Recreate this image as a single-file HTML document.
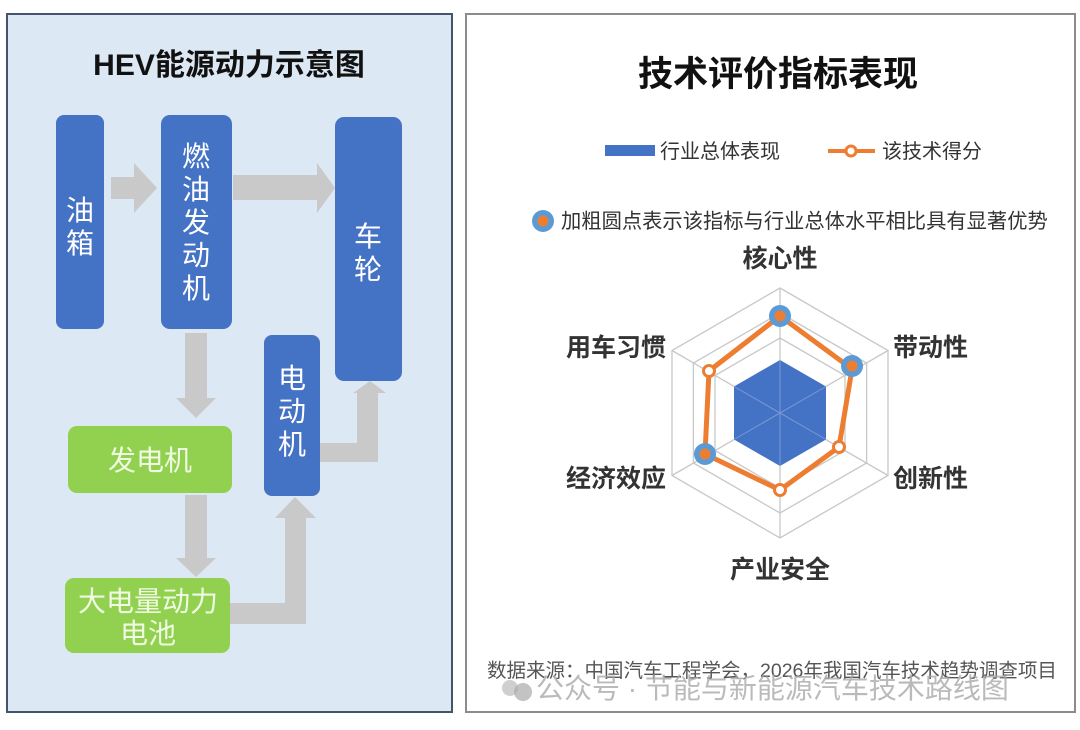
<!DOCTYPE html>
<html><head><meta charset="utf-8"><style>
body{margin:0;background:#fff;}
svg text{font-family:"Liberation Sans","Noto Sans CJK SC",sans-serif;}
</style></head><body>
<svg width="1080" height="725" viewBox="0 0 1080 725" xmlns="http://www.w3.org/2000/svg">
<rect x="0" y="0" width="1080" height="725" fill="#fff"/>
<rect x="7" y="14" width="445" height="698" fill="#dde8f5" stroke="#44546a" stroke-width="2"/>
<text x="229" y="75" font-size="30" font-weight="bold" text-anchor="middle" fill="#111">HEV能源动力示意图</text>
<g fill="#c9c9c9">
<polygon points="111,177 134,177 134,163 157,188 134,213 134,199 111,199"/>
<polygon points="233,175 317,175 317,163 335,188 317,213 317,200 233,200"/>
<polygon points="185,333 207,333 207,398 216,398 196,418 176,398 185,398"/>
<polygon points="185,495 207,495 207,558 216,558 196,577 176,558 185,558"/>
<polygon points="230,603 285,603 285,518 275,518 295,497 316,518 306,518 306,624 230,624"/>
<polygon points="320,443 357,443 357,393 353,393 370,381 386,393 378,393 378,462 320,462"/>
</g>
<g fill="#4472c4">
<rect x="56" y="115" width="48" height="214" rx="8"/>
<rect x="161" y="115" width="71" height="214" rx="9"/>
<rect x="335" y="117" width="67" height="264" rx="9"/>
<rect x="264" y="335" width="56" height="161" rx="8"/>
</g>
<g fill="#92d050">
<rect x="68" y="426" width="164" height="67" rx="9"/>
<rect x="65" y="578" width="165" height="75" rx="9"/>
</g>
<g fill="#fff" font-size="28" text-anchor="middle">
<text x="80" y="220">油</text><text x="80" y="253">箱</text>
<text x="196" y="166">燃</text><text x="196" y="199">油</text><text x="196" y="232">发</text><text x="196" y="265">动</text><text x="196" y="298">机</text>
<text x="368" y="246">车</text><text x="368" y="279">轮</text>
<text x="292" y="388">电</text><text x="292" y="421">动</text><text x="292" y="454">机</text>
</g>
<g fill="#f0fbe3" font-size="28" text-anchor="middle">
<text x="150" y="470">发电机</text>
<text x="148" y="611">大电量动力</text>
<text x="148" y="643">电池</text>
</g>
<rect x="466" y="14" width="609" height="698" fill="#fff" stroke="#8c8c8c" stroke-width="2"/>
<text x="778" y="86" font-size="35" font-weight="bold" text-anchor="middle" fill="#111">技术评价指标表现</text>
<rect x="605" y="145" width="50" height="11" fill="#4472c4"/>
<text x="660" y="158" font-size="20" fill="#333">行业总体表现</text>
<line x1="828" y1="151" x2="875" y2="151" stroke="#ed7d31" stroke-width="4"/>
<circle cx="851" cy="151" r="5" fill="#fff" stroke="#ed7d31" stroke-width="3"/>
<text x="882" y="158" font-size="20" fill="#333">该技术得分</text>
<circle cx="543" cy="221" r="11" fill="#5b9bd5"/>
<circle cx="543" cy="221" r="5.5" fill="#ed7d31"/>
<text x="561" y="228" font-size="20.3" fill="#333">加粗圆点表示该指标与行业总体水平相比具有显著优势</text>
<g fill="none" stroke="#c8c8c8" stroke-width="1.3">
<polygon points="780,288 888,350.5 888,475.5 780,538 672,475.5 672,350.5"/>
<polygon points="780,313 866.6,363 866.6,463 780,513 693.4,463 693.4,363"/>
<polygon points="780,338 845,375.5 845,450.5 780,488 715,450.5 715,375.5"/>
<polygon points="780,363 823.3,388 823.3,438 780,463 736.7,438 736.7,388"/>
<polygon points="780,388 801.7,400.5 801.7,425.5 780,438 758.3,425.5 758.3,400.5"/>
<line x1="780" y1="288" x2="780" y2="538"/>
<line x1="888" y1="350.5" x2="672" y2="475.5"/>
<line x1="888" y1="475.5" x2="672" y2="350.5"/>
</g>
<polygon points="780,360 826,386.5 826,439.5 780,466 734,439.5 734,386.5" fill="#4472c4"/>
<g stroke="#9fb5e0" stroke-width="1" opacity="0.6">
<line x1="780" y1="360" x2="780" y2="466"/>
<line x1="826" y1="386.5" x2="734" y2="439.5"/>
<line x1="826" y1="439.5" x2="734" y2="386.5"/>
</g>
<polygon points="780,316 852,369 839,447 780,490 705,454 709,371" fill="none" stroke="#ed7d31" stroke-width="5" stroke-linejoin="round"/>
<g>
<circle cx="780" cy="316" r="11" fill="#5b9bd5"/><circle cx="780" cy="316" r="5.5" fill="#ed7d31"/>
<circle cx="852" cy="366" r="11" fill="#5b9bd5"/><circle cx="852" cy="366" r="5.5" fill="#ed7d31"/>
<circle cx="705" cy="454" r="11" fill="#5b9bd5"/><circle cx="705" cy="454" r="5.5" fill="#ed7d31"/>
<circle cx="839" cy="447" r="5.5" fill="#fff" stroke="#ed7d31" stroke-width="3"/>
<circle cx="780" cy="490" r="5.5" fill="#fff" stroke="#ed7d31" stroke-width="3"/>
<circle cx="709" cy="371" r="5.5" fill="#fff" stroke="#ed7d31" stroke-width="3"/>
</g>
<g font-size="25" font-weight="bold" fill="#333">
<text x="780" y="267" text-anchor="middle">核心性</text>
<text x="893" y="356">带动性</text>
<text x="893" y="487">创新性</text>
<text x="780" y="578" text-anchor="middle">产业安全</text>
<text x="666" y="487" text-anchor="end">经济效应</text>
<text x="666" y="356" text-anchor="end">用车习惯</text>
</g>
<text x="487" y="677" font-size="19.5" fill="#555">数据来源：中国汽车工程学会，2026年我国汽车技术趋势调查项目</text>
<text x="536" y="698" font-size="28" fill="#aaa" opacity="0.8">公众号 · 节能与新能源汽车技术路线图</text>
<circle cx="510" cy="688" r="8" fill="#bbb" opacity="0.7"/><circle cx="523" cy="692" r="9" fill="#aaa" opacity="0.7"/>
</svg>
</body></html>
